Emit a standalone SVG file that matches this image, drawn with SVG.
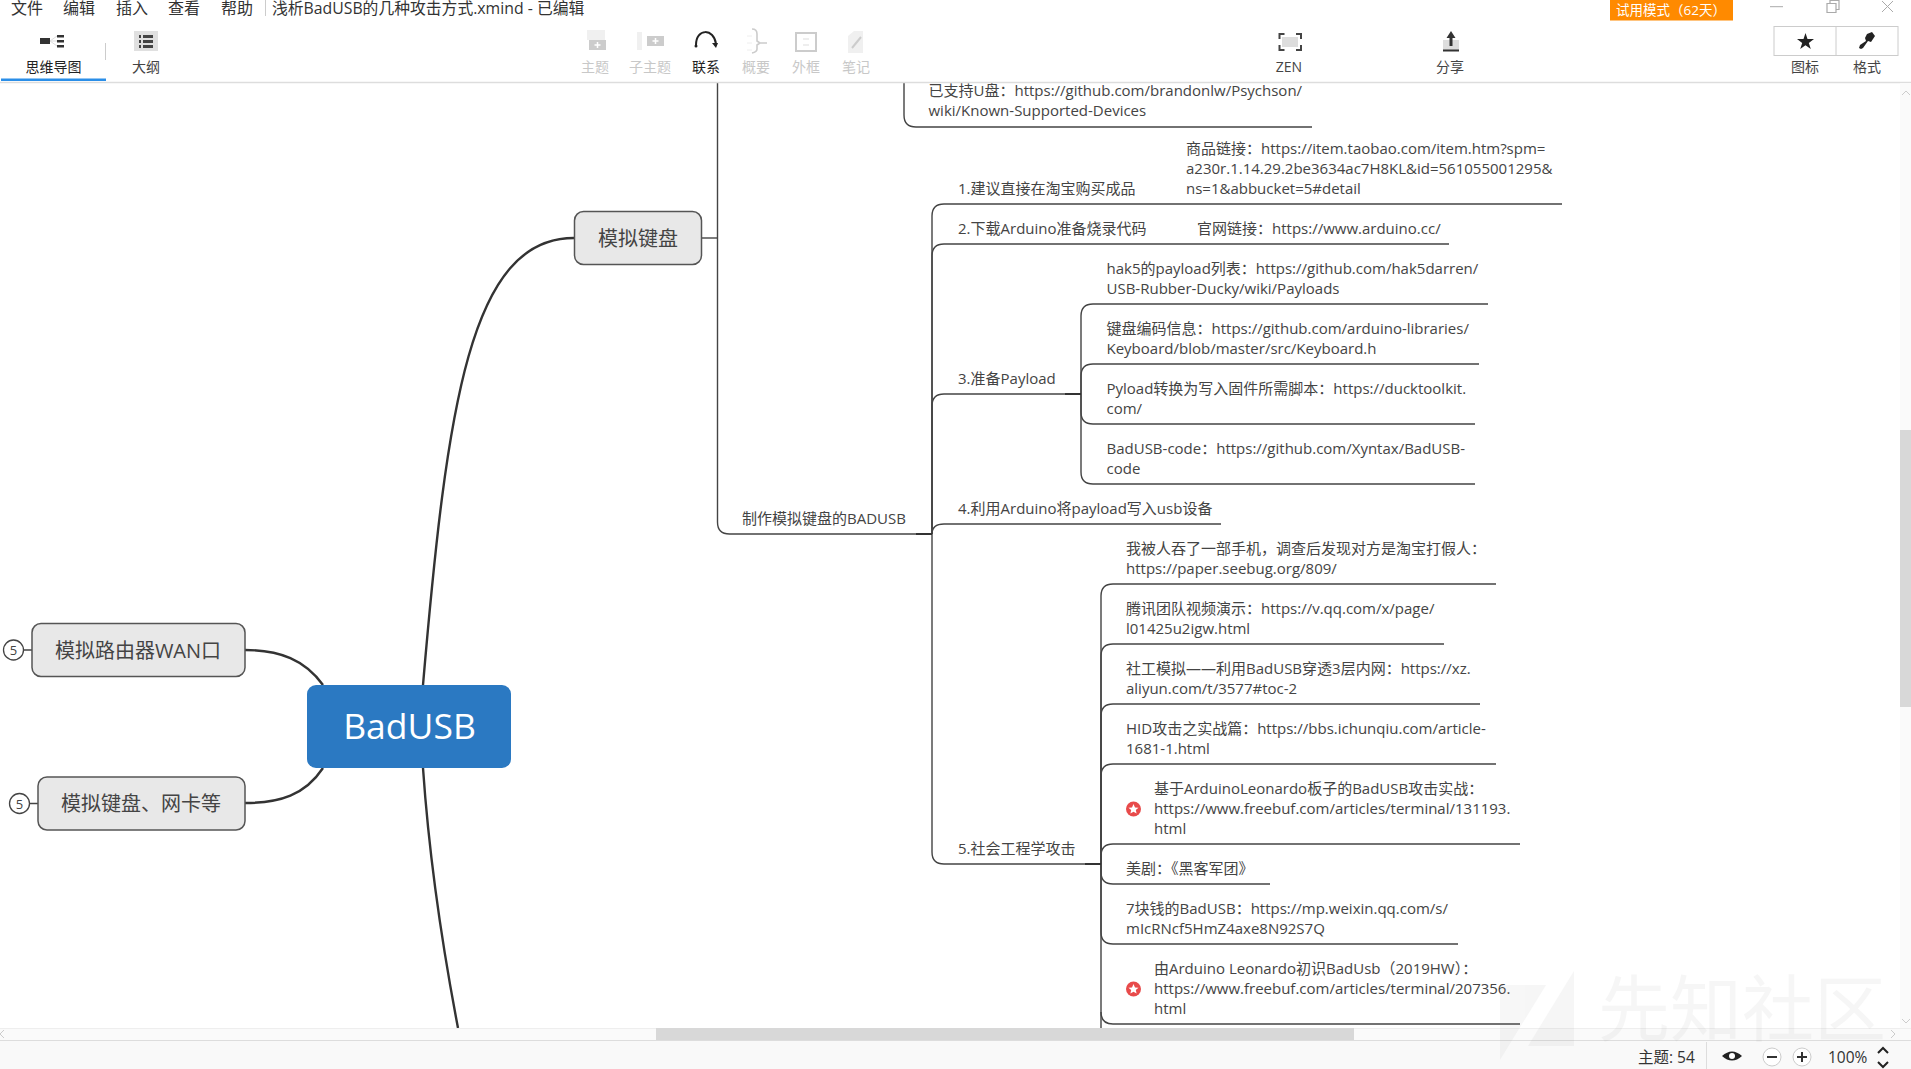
<svg xmlns="http://www.w3.org/2000/svg" width="1911" height="1069" viewBox="0 0 1911 1069">
<style>
text{font-family:"Open Sans","Noto Sans CJK SC",sans-serif;fill:#444}
.t{font-size:15px}
.m{font-size:16px;fill:#333}
.l{font-size:14px;fill:#444;text-anchor:middle}
.d{font-size:14px;fill:#c8c8c8;text-anchor:middle}
.n{font-size:20px;fill:#444;text-anchor:middle}
.s{font-size:15.500px;fill:#333}
.c{fill:none;stroke:#444;stroke-width:1.4}
.h{fill:none;stroke:#333;stroke-width:2.2}
.k{fill:none;stroke:#333;stroke-width:2.4}
.b{fill:#e8e8e8;stroke:#555;stroke-width:1.5}
.o{fill:#fff;stroke:#444;stroke-width:1.3}
.g{fill:#ccc}
.e{fill:#f0f0f0}
.i{fill:#333}
</style>
<rect width="1911" height="1069" fill="#fff"/>
<g id="connectors">
<path class="k" d="M423 685C447 405 470 238 574 238"/>
<path class="k" d="M423 768C430 870 445 960 458 1028"/>
<path class="k" d="M245 650C280 650 305 660 323 685"/>
<path class="k" d="M245 803C280 803 305 795 323 768"/>
<path class="c" d="M702 238H717.500"/>
<path class="c" d="M717.500 83V522Q717.500 534 729.500 534H932"/>
<path class="c" d="M904 83V115Q904 127 916 127H1312"/>
<path class="c" d="M932 534V216Q932 204 944 204H1562"/>
<path class="c" d="M932 534V256Q932 244 944 244H1449"/>
<path class="c" d="M932 534V406Q932 394 944 394H1081"/>
<path class="c" d="M932 534Q932 524 944 524H1221"/>
<path class="c" d="M932 534V852Q932 864 944 864H1101"/>
<path class="c" d="M1081 394V316Q1081 304 1093 304H1488"/>
<path class="c" d="M1081 394V376Q1081 364 1093 364H1479"/>
<path class="c" d="M1081 394V412Q1081 424 1093 424H1475"/>
<path class="c" d="M1081 394V472Q1081 484 1093 484H1475"/>
<path class="c" d="M1101 864V596Q1101 584 1113 584H1496"/>
<path class="c" d="M1101 864V656Q1101 644 1113 644H1444"/>
<path class="c" d="M1101 864V716Q1101 704 1113 704H1480"/>
<path class="c" d="M1101 864V776Q1101 764 1113 764H1496"/>
<path class="c" d="M1101 864V856Q1101 844 1113 844H1520"/>
<path class="c" d="M1101 864V872Q1101 884 1113 884H1270"/>
<path class="c" d="M1101 864V932Q1101 944 1113 944H1458"/>
<path class="c" d="M1101 864V1012Q1101 1024 1113 1024H1520"/>
<path class="c" d="M1101 1012V1028"/>
<path class="h" d="M916 534H932M1065 394H1081M1085 864H1101"/>
<path class="c" d="M23 650H32M29 803.500H38"/>
</g>
<g id="root"><rect x="307" y="685" width="204" height="83" rx="9" fill="#2b79c2"/><text x="409.500" y="739" text-anchor="middle" style="font-size:35.500px;fill:#fff">BadUSB</text></g>
<g id="node-keyboard"><rect class="b" x="574.500" y="211.500" width="127" height="53" rx="9"/><text class="n" x="638" y="246">模拟键盘</text></g>
<g id="node-wan"><rect class="b" x="32" y="623.500" width="213" height="53" rx="9"/><text class="n" x="138" y="658">模拟路由器WAN口</text><circle class="o" cx="13.500" cy="650" r="10"/><text x="13.500" y="655" text-anchor="middle" style="font-size:13px">5</text></g>
<g id="node-nic"><rect class="b" x="38" y="777" width="207" height="53" rx="9"/><text class="n" x="141" y="810.500">模拟键盘、网卡等</text><circle class="o" cx="19.500" cy="803.500" r="10"/><text x="19.500" y="808.500" text-anchor="middle" style="font-size:13px">5</text></g>
<g id="node-make"><text class="t" x="742" y="524">制作模拟键盘的BADUSB</text></g>
<g id="node-udisk"><text class="t" x="928.500" y="96">已支持U盘：https://github.com/brandonlw/Psychson/</text><text class="t" x="928.500" y="116">wiki/Known-Supported-Devices</text></g>
<g id="node-s1"><text class="t" x="958" y="194">1.建议直接在淘宝购买成品</text></g>
<g id="node-s1a"><text class="t" x="1186" y="154">商品链接：https://item.taobao.com/item.htm?spm=</text><text class="t" x="1186" y="174">a230r.1.14.29.2be3634ac7H8KL&amp;id=561055001295&amp;</text><text class="t" x="1186" y="194">ns=1&amp;abbucket=5#detail</text></g>
<g id="node-s2"><text class="t" x="958" y="234">2.下载Arduino准备烧录代码</text></g>
<g id="node-s2a"><text class="t" x="1197" y="234">官网链接：https://www.arduino.cc/</text></g>
<g id="node-s3"><text class="t" x="958" y="384">3.准备Payload</text></g>
<g id="node-s3a"><text class="t" x="1106.500" y="274">hak5的payload列表：https://github.com/hak5darren/</text><text class="t" x="1106.500" y="294">USB-Rubber-Ducky/wiki/Payloads</text></g>
<g id="node-s3b"><text class="t" x="1106.500" y="334">键盘编码信息：https://github.com/arduino-libraries/</text><text class="t" x="1106.500" y="354">Keyboard/blob/master/src/Keyboard.h</text></g>
<g id="node-s3c"><text class="t" x="1106.500" y="394">Pyload转换为写入固件所需脚本：https://ducktoolkit.</text><text class="t" x="1106.500" y="414">com/</text></g>
<g id="node-s3d"><text class="t" x="1106.500" y="454">BadUSB-code：https://github.com/Xyntax/BadUSB-</text><text class="t" x="1106.500" y="474">code</text></g>
<g id="node-s4"><text class="t" x="958" y="514">4.利用Arduino将payload写入usb设备</text></g>
<g id="node-s5"><text class="t" x="958" y="854">5.社会工程学攻击</text></g>
<g id="node-s5a"><text class="t" x="1126" y="554">我被人吞了一部手机，调查后发现对方是淘宝打假人：</text><text class="t" x="1126" y="574">https://paper.seebug.org/809/</text></g>
<g id="node-s5b"><text class="t" x="1126" y="614">腾讯团队视频演示：https://v.qq.com/x/page/</text><text class="t" x="1126" y="634">l01425u2igw.html</text></g>
<g id="node-s5c"><text class="t" x="1126" y="674">社工模拟——利用BadUSB穿透3层内网：https://xz.</text><text class="t" x="1126" y="694">aliyun.com/t/3577#toc-2</text></g>
<g id="node-s5d"><text class="t" x="1126" y="734">HID攻击之实战篇：https://bbs.ichunqiu.com/article-</text><text class="t" x="1126" y="754">1681-1.html</text></g>
<g id="node-s5e"><circle cx="1133.500" cy="809" r="7.500" fill="#e84a4a"/><polygon points="1133.500,804 1135,807.500 1138.500,807.800 1135.800,810 1136.600,813.500 1133.500,811.700 1130.400,813.500 1131.200,810 1128.500,807.800 1132,807.500" fill="#fff"/><text class="t" x="1154" y="794">基于ArduinoLeonardo板子的BadUSB攻击实战：</text><text class="t" x="1154" y="814">https://www.freebuf.com/articles/terminal/131193.</text><text class="t" x="1154" y="834">html</text></g>
<g id="node-s5f"><text class="t" x="1126" y="874">美剧：《黑客军团》</text></g>
<g id="node-s5g"><text class="t" x="1126" y="914">7块钱的BadUSB：https://mp.weixin.qq.com/s/</text><text class="t" x="1126" y="934">mIcRNcf5HmZ4axe8N92S7Q</text></g>
<g id="node-s5h"><circle cx="1133.500" cy="989" r="7.500" fill="#e84a4a"/><polygon points="1133.500,984 1135,987.500 1138.500,987.800 1135.800,990 1136.600,993.500 1133.500,991.700 1130.400,993.500 1131.200,990 1128.500,987.800 1132,987.500" fill="#fff"/><text class="t" x="1154" y="974">由Arduino Leonardo初识BadUsb（2019HW）：</text><text class="t" x="1154" y="994">https://www.freebuf.com/articles/terminal/207356.</text><text class="t" x="1154" y="1014">html</text></g>
<rect x="0" y="0" width="1911" height="82" fill="#fff"/>
<text class="m" x="11" y="14">文件</text><text class="m" x="63" y="14">编辑</text><text class="m" x="116" y="14">插入</text><text class="m" x="168" y="14">查看</text><text class="m" x="221" y="14">帮助</text>
<path d="M265.500 0V16" stroke="#ccc"/>
<text class="m" x="272" y="14" style="font-size:15.800px">浅析BadUSB的几种攻击方式.xmind - 已编辑</text>
<rect x="1610" y="0" width="123" height="20.500" fill="#ff8a00"/><text x="1671" y="15" text-anchor="middle" style="font-size:13.500px;fill:#fff">试用模式（62天）</text>
<path d="M1770 6.700H1783" stroke="#aaa"/><path d="M1827 3.500h9v9h-9zM1830 3.500v-3h9v9h-3" fill="none" stroke="#aaa" stroke-width="1.200"/><path d="M1882 1l11 11M1893 1l-11 11" stroke="#aaa"/>
<path d="M0 82.500H1911" stroke="#ddd" stroke-width="1.500"/>
<rect x="1" y="78.500" width="105" height="2.500" fill="#2a8ee8"/>
<path d="M105.500 43V60" stroke="#ccc"/>
<g id="toolbar-mind"><rect class="i" x="40" y="38" width="10" height="6"/><path d="M50 41L57 36M50 41H57M50 41L57 46" fill="none" stroke="#ddd"/><path d="M57 35h7v2.500h-7zM57 40h7v2.500h-7zM57 45h7v2.500h-7z" fill="#333"/><text class="l" x="53.500" y="72" style="fill:#222">思维导图</text></g>
<g id="toolbar-outline"><rect x="134" y="31" width="24" height="20" fill="#e0e0e0"/><path d="M139 35h2v3h-2zM143 35h10v3h-10zM139 40h2v3h-2zM143 40h10v3h-10zM139 45h2v3h-2zM143 45h10v3h-10z" fill="#444"/><text class="l" x="146" y="72">大纲</text></g>
<g id="toolbar-mid">
<rect class="e" x="587" y="30" width="18" height="10"/><rect class="g" x="589" y="40" width="17" height="10"/><path d="M594.500 45h6M597.500 42v6" stroke="#fff" stroke-width="1.500"/><text class="d" x="595" y="72">主题</text>
<rect class="e" x="637" y="32" width="5" height="18"/><rect class="g" x="647" y="36" width="17" height="10"/><path d="M652.500 41h6M655.500 38v6" stroke="#fff" stroke-width="1.500"/><text class="d" x="650" y="72">子主题</text>
<path d="M696 45C696 28 714 28 716 44" fill="none" stroke="#222" stroke-width="2"/><circle cx="696" cy="46" r="1.500" fill="#222"/><path d="M712 43l6 0-2 5z" fill="#222"/><text class="l" x="706" y="72" style="fill:#222">联系</text>
<path d="M752 29q5 0 5 5v7l3 2-3 2v4q0 3-5 4M760 43h7" fill="none" stroke="#ccc" stroke-width="1.600"/><path d="M747 36h5M747 43h5M747 50h5" stroke="#eee"/><text class="d" x="756" y="72">概要</text>
<rect x="796" y="33" width="20" height="18" fill="none" stroke="#ccc" stroke-width="2"/><path d="M803 39h6M803 45h6" stroke="#ddd"/><text class="d" x="806" y="72">外框</text>
<path class="e" d="M848 36l6-5h9v22h-15z"/><path d="M852 48l9-11" stroke="#ccc" stroke-width="2"/><text class="d" x="856" y="72">笔记</text>
</g>
<g id="toolbar-right">
<rect x="1282" y="37" width="16" height="10" fill="#ddd"/><path d="M1279.500 39v-5h5M1296 34h5v5M1301 45v5h-5M1284.500 50h-5v-5" fill="none" stroke="#444" stroke-width="2"/><text class="l" x="1289" y="72">ZEN</text>
<rect x="1443" y="40" width="16" height="10" fill="#ddd"/><rect x="1443" y="49.500" width="16" height="2" fill="#333"/><path d="M1451 31l-4.500 7h3v8h3v-8h3z" fill="#333"/><text class="l" x="1450" y="72">分享</text>
<rect x="1774" y="26.500" width="124" height="29" fill="#fff" stroke="#ccc"/><path d="M1836 26.500V55.500" stroke="#ccc"/>
<polygon points="1805.500,33 1807.500,39 1814,39 1808.800,43 1810.800,49 1805.500,45.300 1800.200,49 1802.200,43 1797,39 1803.500,39" fill="#222"/>
<path d="M1867 34l5-2 3 4-4 6-3-1-5 7-2 1-2-1 1-3 6-4-1-3z" fill="#222"/>
<text class="l" x="1805" y="72">图标</text><text class="l" x="1867" y="72">格式</text>
</g>
<g id="scrollbars">
<rect x="1900" y="83" width="11" height="945" fill="#fafafa"/>
<rect x="1900" y="430" width="11" height="277" fill="#d8d8d8"/>
<path d="M1902 95l4-4 4 4M1902 1019l4 4 4-4" fill="none" stroke="#ccc"/>
<rect x="0" y="1028" width="1911" height="12.500" fill="#fafafa"/>
<path d="M0 1028.500H1911" stroke="#eee"/>
<rect x="656" y="1028" width="698" height="12.500" fill="#d8d8d8"/>
<path d="M1891 1030l4 4-4 4M4 1030l-4 4 4 4" fill="none" stroke="#ccc"/>
<rect x="0" y="1040.500" width="1911" height="28.500" fill="#f9f9f9"/>
<path d="M0 1040.500H1911" stroke="#ddd"/>
</g>
<g id="status">
<text class="s" x="1638" y="1063">主题: 54</text>
<path d="M1706.500 1042V1069" stroke="#ddd"/>
<path d="M1722 1056q10-9 20 0q-10 9-20 0z" fill="#222"/><circle cx="1732" cy="1056" r="3" fill="#fff"/>
<circle cx="1772" cy="1057" r="9" fill="#fff" stroke="#ccc"/><path d="M1767 1057h10" stroke="#333" stroke-width="2"/>
<circle cx="1802" cy="1057" r="9" fill="#fff" stroke="#ccc"/><path d="M1797 1057h10M1802 1052v10" stroke="#333" stroke-width="2"/>
<text class="s" x="1828" y="1063">100%</text>
<path d="M1878 1053l5-5 5 5M1878 1062l5 5 5-5" fill="none" stroke="#222" stroke-width="2"/>
</g>
<g id="watermark" opacity=".07"><polygon points="1500,985 1546,985 1500,1060" fill="#888"/><polygon points="1574,971 1574,1046 1528,1046" fill="#888"/><text x="1598" y="1035" style="font-size:72px;fill:#888">先知社区</text></g>
</svg>
